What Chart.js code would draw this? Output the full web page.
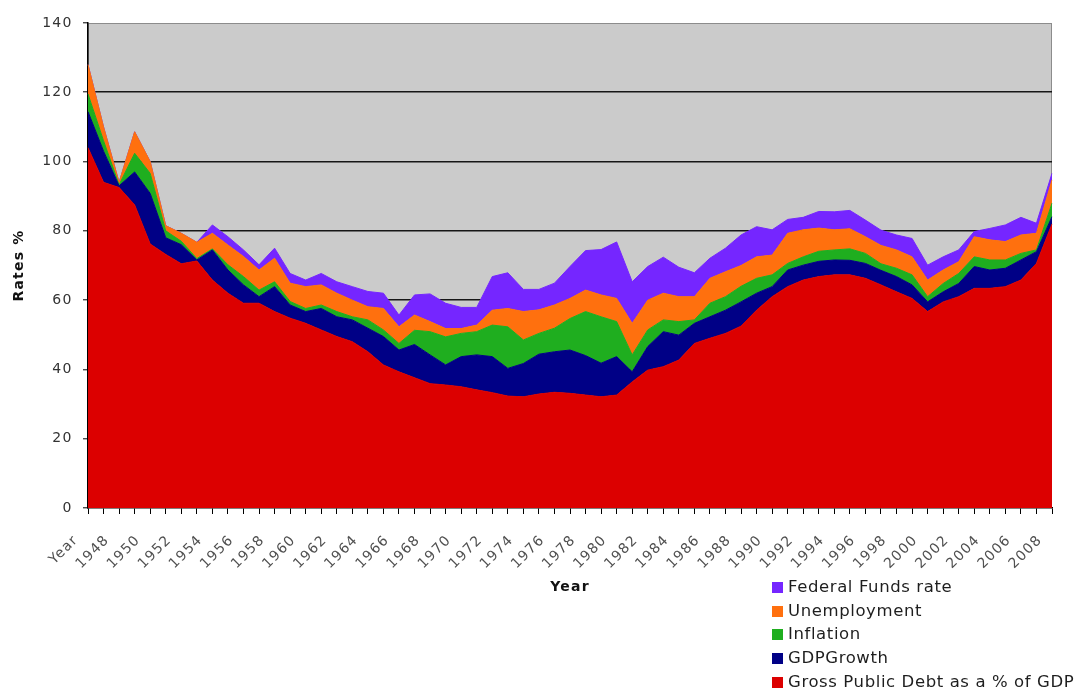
<!DOCTYPE html>
<html>
<head>
<meta charset="utf-8">
<script src="https://cdn.jsdelivr.net/npm/chart.js@4.4.1/dist/chart.umd.min.js"></script>
<style>
  html, body { margin: 0; padding: 0; background: #ffffff; }
  #wrap { position: relative; width: 1088px; height: 690px; }
  #legend { position: absolute; left: 772px; top: 575px; font-family: "DejaVu Sans", Verdana, sans-serif; font-size: 16.5px; letter-spacing: 0.6px; color: #1e1e1e; }
  .row { height: 23.7px; line-height: 23.7px; white-space: nowrap; }
  .sw { display: inline-block; width: 11px; height: 11px; margin-right: 5px; vertical-align: -1px; }
</style>
</head>
<body>
<div id="wrap">
  <canvas id="c" width="1088" height="690"></canvas>
  <div id="legend"></div>
</div>
<script>
const categories = ['Year','1947','1948','1949','1950','1951','1952','1953','1954','1955','1956','1957','1958','1959','1960','1961','1962','1963','1964','1965','1966','1967','1968','1969','1970','1971','1972','1973','1974','1975','1976','1977','1978','1979','1980','1981','1982','1983','1984','1985','1986','1987','1988','1989','1990','1991','1992','1993','1994','1995','1996','1997','1998','1999','2000','2001','2002','2003','2004','2005','2006','2007','2008'];

const grossDebt = [104, 94, 92.5, 87.5, 76.2, 73.2, 70.5, 71.3, 65.8, 62.0, 59.1, 59.1, 56.7, 54.8, 53.3, 51.4, 49.5, 48.0, 45.1, 41.3, 39.3, 37.6, 35.9, 35.5, 35.0, 34.1, 33.3, 32.3, 32.1, 32.9, 33.4, 33.1, 32.6, 32.1, 32.6, 36.4, 39.8, 40.8, 42.7, 47.5, 49.0, 50.4, 52.5, 57.1, 61.0, 63.9, 65.8, 66.8, 67.3, 67.3, 66.3, 64.4, 62.4, 60.5, 56.7, 59.5, 61.0, 63.4, 63.4, 63.9, 65.8, 70.6, 82.0];

const gdpGrowth = [10.4, 9, 0.5, 9.5, 14.6, 4.8, 5.5, 0.3, 8.7, 6.7, 5.3, 1.9, 7.2, 3.8, 3.4, 6.2, 5.7, 6.3, 6.8, 8.2, 6.3, 9.6, 8.3, 5.8, 8.7, 10.1, 10.4, 8.0, 9.6, 11.5, 11.7, 12.5, 11.4, 9.7, 11.1, 2.9, 6.8, 10.1, 7.2, 5.8, 6.2, 6.7, 7.0, 4.9, 2.9, 4.8, 4.3, 4.4, 4.3, 4.2, 4.3, 4.2, 4.4, 3.9, 2.8, 2.9, 3.8, 6.3, 5.3, 5.3, 5.8, 3.4, 2.1];

const inflation = [5.1, 3, 0.3, 5.4, 5.8, 2.0, 1.0, 0.4, 0.3, 1.5, 2.4, 1.9, 1.4, 1.0, 0.9, 1.0, 1.5, 0.9, 2.4, 1.9, 1.9, 4.1, 6.7, 8.1, 6.7, 6.7, 9.1, 12.0, 6.8, 6.0, 6.8, 9.1, 12.7, 13.4, 10.1, 4.9, 4.8, 3.4, 3.9, 1.0, 3.9, 3.9, 4.5, 4.3, 3.4, 1.9, 2.4, 2.9, 2.9, 3.3, 2.9, 1.9, 2.4, 2.9, 1.5, 2.4, 2.9, 2.8, 2.9, 2.4, 1.9, 0.5, 3.9];

const unemployment = [8.5, 4, 0.7, 6.2, 3.4, 1.5, 2.3, 4.7, 4.5, 5.7, 5.8, 5.8, 6.8, 5.3, 6.3, 5.8, 5.3, 4.8, 3.8, 6.2, 4.8, 4.4, 2.9, 2.4, 1.4, 1.9, 4.3, 5.3, 8.2, 6.8, 6.7, 5.8, 6.2, 6.3, 6.7, 9.1, 8.6, 7.7, 7.2, 6.7, 7.2, 7.2, 6.0, 6.2, 5.7, 8.7, 7.8, 6.7, 5.8, 5.8, 4.8, 5.3, 5.3, 5.2, 4.8, 3.9, 3.4, 5.8, 5.8, 5.3, 5.3, 4.8, 6.7];

const fedFunds = [0, 0, 0, 0, 0, 0, 0, 0, 2.4, 2.4, 1.9, 1.5, 2.9, 2.8, 1.9, 3.3, 3.3, 3.9, 4.4, 4.4, 3.4, 5.8, 8.0, 7.3, 6.1, 5.1, 9.7, 10.3, 6.4, 5.9, 6.3, 9.2, 11.4, 13.1, 16.3, 12.0, 9.7, 10.4, 8.5, 6.9, 5.8, 6.8, 8.8, 8.7, 7.3, 4.0, 3.6, 4.8, 5.2, 5.3, 4.8, 4.4, 4.3, 5.3, 4.3, 3.8, 3.4, 1.5, 3.3, 4.8, 5.1, 2.9, 1.9];

const yTicks = [0, 20, 40, 60, 80, 100, 120, 140];

const seriesNames = ['Gross Public Debt as a % of GDP', 'GDPGrowth', 'Inflation', 'Unemployment', 'Federal Funds rate'];
const seriesColors = ['#dc0000', '#000086', '#1fae1f', '#ff700e', '#7526ff'];
const seriesData = [grossDebt, gdpGrowth, inflation, unemployment, fedFunds];

const datasets = seriesData.map((d, k) => ({
  label: seriesNames[k],
  data: d,
  backgroundColor: seriesColors[k],
  borderColor: seriesColors[k],
  borderWidth: 1,
  pointRadius: 0,
  tension: 0,
  fill: k === 0 ? 'origin' : '-1'
}));

const plotBg = {
  id: 'plotBg',
  beforeDraw(chart) {
    const { ctx, chartArea: a } = chart;
    ctx.letterSpacing = '1.2px';
    ctx.save();
    ctx.fillStyle = '#cbcbcb';
    ctx.fillRect(a.left, a.top, a.right - a.left, a.bottom - a.top);
    ctx.strokeStyle = '#8c8c8c';
    ctx.lineWidth = 1;
    ctx.strokeRect(a.left + 0.5, a.top + 0.5, a.right - a.left - 1, a.bottom - a.top - 1);
    ctx.restore();
  }
};

const FONT = '"DejaVu Sans", Verdana, sans-serif';

new Chart(document.getElementById('c'), {
  type: 'line',
  data: { labels: categories, datasets },
  plugins: [plotBg],
  options: {
    responsive: false,
    devicePixelRatio: 1,
    animation: false,
    layout: { padding: { left: 0, top: 23, right: 36, bottom: 94 } },
    plugins: { legend: { display: false }, tooltip: { enabled: false } },
    elements: { line: { borderJoinStyle: 'miter' } },
    scales: {
      x: {
        type: 'category',
        offset: false,
        afterFit(scale) { scale.height = 88; },
        grid: { drawOnChartArea: false, drawTicks: true, tickLength: 6, color: '#000', tickColor: '#000', tickWidth: 1 },
        border: { display: true, color: '#000', width: 1.5 },
        ticks: {
          autoSkip: false, maxRotation: 45, minRotation: 45, padding: 18, labelOffset: -12,
          color: '#505050', font: { family: FONT, size: 14 },
          callback: function (value, index) { return index % 2 === 0 ? this.getLabelForValue(value) : ''; }
        },
        title: { display: true, text: 'Year', color: '#111', font: { family: FONT, size: 14, weight: 'bold' }, padding: { top: 0, bottom: 0 } }
      },
      y: {
        stacked: true,
        min: yTicks[0],
        max: yTicks[yTicks.length - 1],
        afterFit(scale) { scale.width = 88; },
        afterBuildTicks(scale) { scale.ticks = yTicks.map(v => ({ value: v })); },
        grid: {
          color: (c) => (c.tick && (c.tick.value === 0 || c.tick.value === 140)) ? 'rgba(0,0,0,0)' : '#161616',
          lineWidth: 1.6, drawTicks: true, tickLength: 5, tickColor: '#000', tickWidth: 1
        },
        border: { display: true, color: '#000', width: 1.5 },
        ticks: { color: '#333', padding: 10.5, font: { family: FONT, size: 14 } },
        title: { display: true, text: 'Rates %', color: '#111', font: { family: FONT, size: 14, weight: 'bold' }, padding: { top: 11, bottom: 0 } }
      }
    }
  }
});

const legend = document.getElementById('legend');
for (let k = seriesNames.length - 1; k >= 0; k--) {
  const row = document.createElement('div');
  row.className = 'row';
  const sw = document.createElement('span');
  sw.className = 'sw';
  sw.style.background = seriesColors[k];
  row.appendChild(sw);
  row.appendChild(document.createTextNode(seriesNames[k]));
  legend.appendChild(row);
}
</script>
</body>
</html>
